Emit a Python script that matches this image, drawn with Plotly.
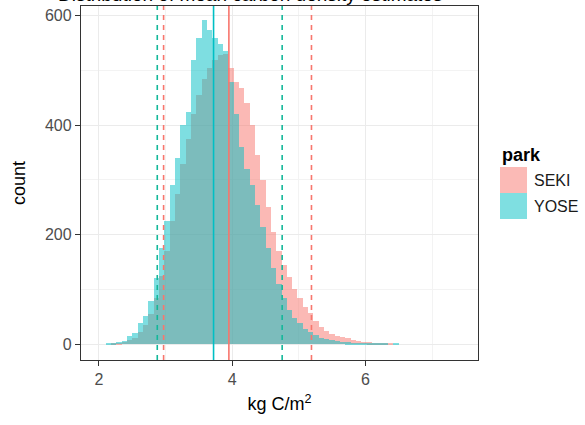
import plotly.graph_objects as go

# ---- data ----
bin_width = 0.08
bin_centers = [2.14, 2.22, 2.30, 2.38, 2.46, 2.54, 2.62, 2.70, 2.78, 2.86,
               2.94, 3.02, 3.10, 3.18, 3.26, 3.34, 3.42, 3.50, 3.58, 3.66,
               3.74, 3.82, 3.90, 3.98, 4.06, 4.14, 4.22, 4.30, 4.38, 4.46,
               4.54, 4.62, 4.70, 4.78, 4.86, 4.94, 5.02, 5.10, 5.18, 5.26,
               5.34, 5.42, 5.50, 5.58, 5.66, 5.74, 5.82, 5.90, 5.98, 6.06,
               6.14, 6.22, 6.30, 6.38, 6.46, 6.54, 6.62]

seki_counts = [0, 1, 2, 4, 8, 12, 22, 35, 55, 85,
               125, 170, 225, 275, 330, 375, 420, 455, 485, 505,
               520, 528, 530, 505, 480, 468, 440, 400, 345, 300,
               250, 205, 170, 145, 122, 100, 85, 68, 56, 42,
               32, 24, 19, 15, 13, 11, 8, 6, 4, 3,
               2, 2, 1, 1, 0, 0, 0]

yose_counts = [1, 2, 4, 6, 14, 20, 38, 52, 78, 120,
               175, 225, 290, 340, 400, 425, 520, 560, 592, 575,
               560, 548, 535, 480, 420, 360, 320, 290, 255, 215,
               175, 140, 110, 85, 62, 48, 38, 28, 22, 16,
               12, 9, 7, 5, 4, 3, 2, 2, 2, 1,
               1, 1, 1, 0, 1, 0, 0]

parks = ["SEKI", "YOSE"]
park_means = [3.95, 3.72]
park_lower = [2.97, 2.875]
park_upper = [5.19, 4.75]

x_ticks = [2, 4, 6]
y_ticks = [0, 200, 400, 600]

colors = {"SEKI": "#F8766D", "YOSE": "#00BFC4"}
dash_colors = {"SEKI": "#F8766D", "YOSE": "#13B89A"}
font_family = "Liberation Sans, Arial, sans-serif"
bar_opacity = 0.5

W, H = 585, 425
ML, MR, MT, MB = 81, 107, 6, 65
PW, PH = W - ML - MR, H - MT - MB


def px_x(px):
    return (px - ML) / PW


def px_y(py):
    return 1 - (py - MT) / PH


fig = go.Figure()
for park, counts in zip(parks, [seki_counts, yose_counts]):
    fig.add_trace(go.Bar(
        x=bin_centers, y=counts, width=bin_width, name=park,
        marker=dict(color=colors[park], line=dict(width=0)),
        opacity=bar_opacity, showlegend=False,
    ))

shapes = []
for park, m, lo, hi in zip(parks, park_means, park_lower, park_upper):
    shapes.append(dict(type="line", xref="x", yref="paper", x0=m, x1=m, y0=0, y1=1,
                       line=dict(color=colors[park], width=1.6)))
    for q in (lo, hi):
        shapes.append(dict(type="line", xref="x", yref="paper", x0=q, x1=q, y0=0, y1=1,
                           line=dict(color=dash_colors[park], width=1.6, dash="5px,5px")))

# title (cut by the top edge, as in the reference) and legend (keys + labels)
annotations = [dict(
    text="Distribution of mean carbon density estimates",
    xref="paper", yref="paper", x=px_x(250), y=px_y(7.2), xanchor="center", yanchor="bottom",
    showarrow=False, font=dict(size=19, color="#000000", family=font_family),
)]
annotations.append(dict(text="<b>park</b>", xref="paper", yref="paper",
                        x=px_x(500), y=px_y(155), xanchor="left", yanchor="middle",
                        showarrow=False, font=dict(size=18, color="#000000")))
key_top = 167
key_h = 26
for i, park in enumerate(parks):
    y0 = key_top + i * key_h
    shapes.append(dict(type="rect", xref="paper", yref="paper",
                       x0=px_x(500), x1=px_x(527), y0=px_y(y0 + key_h), y1=px_y(y0),
                       fillcolor=colors[park], opacity=bar_opacity, line=dict(width=0)))
    annotations.append(dict(text=park, xref="paper", yref="paper",
                            x=px_x(532), y=px_y(y0 + key_h / 2), xanchor="left", yanchor="middle",
                            showarrow=False, font=dict(size=16, color="#1a1a1a")))

fig.update_layout(
    width=W, height=H,
    margin=dict(l=ML, r=MR, t=MT, b=MB),
    paper_bgcolor="white", plot_bgcolor="white",
    barmode="overlay", bargap=0,
    font=dict(family=font_family, size=16, color="#4d4d4d"),
    shapes=shapes,
    annotations=annotations,
    showlegend=False,
)

fig.update_xaxes(
    range=[1.73, 7.69], tickvals=x_ticks, ticktext=[str(t) for t in x_ticks],
    showgrid=True, gridcolor="#ebebeb", gridwidth=1,
    minor=dict(showgrid=True, dtick=1, tick0=1, gridcolor="#f3f3f3", gridwidth=0.6),
    ticks="outside", ticklen=5, tickcolor="#333333", tickwidth=1,
    showline=True, mirror=True, linecolor="#333333", linewidth=1.3,
    zeroline=False,
    tickfont=dict(size=16, color="#4d4d4d"),
    title=dict(text="kg C/m<sup>2</sup>", font=dict(size=18, color="#000000"), standoff=10),
)
fig.update_yaxes(
    range=[-29, 618], tickvals=y_ticks, ticktext=[str(t) for t in y_ticks],
    showgrid=True, gridcolor="#ebebeb", gridwidth=1,
    minor=dict(showgrid=True, dtick=100, tick0=100, gridcolor="#f3f3f3", gridwidth=0.6),
    ticks="outside", ticklen=5, tickcolor="#333333", tickwidth=1,
    showline=True, mirror=True, linecolor="#333333", linewidth=1.3,
    zeroline=False,
    tickfont=dict(size=16, color="#4d4d4d"),
    title=dict(text="count", font=dict(size=18, color="#000000"), standoff=14),
)

fig.write_html("out.html")
